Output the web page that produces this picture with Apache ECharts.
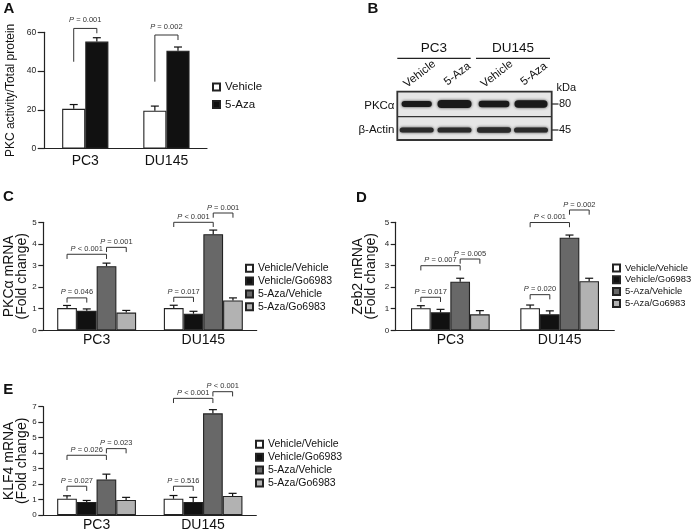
<!DOCTYPE html>
<html><head><meta charset="utf-8">
<script src="https://cdn.jsdelivr.net/npm/echarts@6/dist/echarts.min.js"></script>
<style>html,body{margin:0;padding:0;background:#fff}#c{width:691px;height:532px}</style>
</head><body><div id="c"></div>
<script>
// ---------- data ----------
const categories = ['PC3', 'DU145'];

// Panel A
const aNames = ['Vehicle', '5-Aza'];
const aVehicle = [20.5, 19.5];
const aAza = [55.2, 50.5];
const aVehicleErr = [2.2, 2.4];
const aAzaErr = [2.0, 1.9];
// [category, fromBar, toBar, lineY, leftFootY, rightFootY]
const aBrackets = [[0, 0, 1, 62.0, 44.8, 59.5], [1, 0, 1, 58.6, 34.5, 56.0]];
const aPLabels = ['= 0.001', '= 0.002'];

// Panels C, D, E (series x category)
const groupNames = ['Vehicle/Vehicle', 'Vehicle/Go6983', '5-Aza/Vehicle', '5-Aza/Go6983'];

const cValues = [[1.03, 1.03], [0.90, 0.77], [2.97, 4.45], [0.82, 1.38]];
const cErrors = [[0.12, 0.13], [0.09, 0.11], [0.14, 0.19], [0.10, 0.12]];
const cBrackets = [[0, 0, 1, 1.50], [0, 0, 2, 3.52], [0, 2, 3, 3.84], [1, 0, 1, 1.53], [1, 0, 2, 5.00], [1, 2, 3, 5.43]];
const cPLabels = ['= 0.046', '< 0.001', '= 0.001', '= 0.017', '< 0.001', '= 0.001'];

const dValues = [[1.02, 1.02], [0.83, 0.74], [2.25, 4.29], [0.74, 2.27]];
const dErrors = [[0.12, 0.15], [0.14, 0.16], [0.16, 0.12], [0.17, 0.14]];
const dBrackets = [[0, 0, 1, 1.53], [0, 0, 2, 2.99], [0, 2, 3, 3.30], [1, 0, 1, 1.65], [1, 0, 2, 4.99], [1, 2, 3, 5.57]];
const dPLabels = ['= 0.017', '= 0.007', '= 0.005', '= 0.020', '< 0.001', '= 0.002'];

const eValues = [[1.05, 1.05], [0.84, 0.84], [2.30, 6.57], [0.97, 1.23]];
const eErrors = [[0.19, 0.21], [0.10, 0.30], [0.34, 0.24], [0.17, 0.17]];
const eBrackets = [[0, 0, 1, 1.86], [0, 0, 2, 3.86], [0, 2, 3, 4.29], [1, 0, 1, 1.86], [1, 0, 2, 7.54], [1, 2, 3, 7.97]];
const ePLabels = ['= 0.027', '= 0.026', '= 0.023', '= 0.516', '< 0.001', '< 0.001'];

// Axis ticks
const aAxis = {max: 60, interval: 20};
const cAxis = {max: 5, interval: 1};
const dAxis = {max: 5, interval: 1};
const eAxis = {max: 7, interval: 1};

// Panel B (western blot)
const blotGroups = ['PC3', 'DU145'];
const blotLanes = ['Vehicle', '5-Aza', 'Vehicle', '5-Aza'];
const blotRows = ['PKC\u03b1', '\u03b2-Actin'];
const blotMarkers = ['80', '45'];
const pkcIntensity = [0.62, 1.0, 0.68, 0.9];
const actinIntensity = [0.85, 0.9, 0.92, 0.88];

// ---------- styles ----------
const FONT = '"Liberation Sans", Arial, sans-serif';
const AX = '#222';
const groupColors = ['#ffffff', '#111111', '#686868', '#b2b2b2'];
const aColors = ['#ffffff', '#111111'];

const panels = [
  {key: 'A', grid: {left: 44.7, top: 32.3, width: 162.3, height: 116.2}, gap: 0.43, axis: aAxis,
   name: 'PKC activity/Total protein', nameGap: 28, nameSize: 12, labelMargin: 6, tickFont: 8.5, tickLen: 7},
  {key: 'C', grid: {left: 43.3, top: 222.3, width: 213.4, height: 108}, gap: 0.26, axis: cAxis,
   name: 'PKC\u03b1 mRNA\n(Fold change)', nameGap: 15, nameSize: 14, labelMargin: 3, tickFont: 8, tickLen: 5},
  {key: 'D', grid: {left: 395.7, top: 222.3, width: 218.6, height: 108}, gap: 0.28, axis: dAxis,
   name: 'Zeb2 mRNA\n(Fold change)', nameGap: 18.5, nameSize: 14, labelMargin: 3, tickFont: 8, tickLen: 5},
  {key: 'E', grid: {left: 43.3, top: 406.7, width: 213, height: 108.3}, gap: 0.26, axis: eAxis,
   name: 'KLF4 mRNA\n(Fold change)', nameGap: 15, nameSize: 14, labelMargin: 3, tickFont: 8, tickLen: 5}
];

function errRender(gap, n) {
  return function (params, api) {
    const cat = api.value(0), bi = api.value(1), v = api.value(2), e = api.value(3);
    const band = api.size([1, 0])[0];
    const bw = band * (1 - gap) / n;
    const base = api.coord([cat, v]);
    const top = api.coord([cat, v + e]);
    const x = base[0] + (bi - (n - 1) / 2) * bw;
    const st = {stroke: '#111', lineWidth: 1.2};
    return {type: 'group', children: [
      {type: 'line', shape: {x1: x, y1: base[1], x2: x, y2: top[1]}, style: st},
      {type: 'line', shape: {x1: x - 4, y1: top[1], x2: x + 4, y2: top[1]}, style: st}
    ]};
  };
}

function bracketRender(gap, n, labels, legPx, labelGap) {
  return function (params, api) {
    const cat = api.value(0), f = api.value(1), t = api.value(2), y = api.value(3);
    const fl = api.value(4), fr = api.value(5);
    const band = api.size([1, 0])[0];
    const bw = band * (1 - gap) / n;
    const c = api.coord([cat, y]);
    const x1 = c[0] + (f - (n - 1) / 2) * bw;
    const x2 = c[0] + (t - (n - 1) / 2) * bw;
    const yl = (typeof fl === 'number' && !isNaN(fl)) ? api.coord([cat, fl])[1] : c[1] + legPx;
    const yr = (typeof fr === 'number' && !isNaN(fr)) ? api.coord([cat, fr])[1] : c[1] + legPx;
    return {type: 'group', children: [
      {type: 'polyline', shape: {points: [[x1, yl], [x1, c[1]], [x2, c[1]], [x2, yr]]},
       style: {stroke: '#333', lineWidth: 1, fill: null}},
      {type: 'text', x: (x1 + x2) / 2, y: c[1] - labelGap,
       style: {text: '{i|P} ' + labels[params.dataIndex], align: 'center', verticalAlign: 'bottom',
               fontSize: 7.5, fontFamily: FONT, fill: '#333',
               rich: {i: {fontStyle: 'italic', fontSize: 7.5, fontFamily: FONT, fill: '#333'}}}}
    ]};
  };
}

const grids = [], xAxes = [], yAxes = [], series = [];
panels.forEach(function (p, i) {
  grids.push(Object.assign({containLabel: false, outerBoundsMode: 'none'}, p.grid));
  xAxes.push({gridIndex: i, type: 'category', data: categories,
    axisLine: {lineStyle: {color: AX, width: 1.2}},
    axisTick: {length: 11, lineStyle: {color: AX, width: 1.2}},
    axisLabel: {fontSize: 14, color: '#111', margin: p.labelMargin, fontFamily: FONT, interval: 0}});
  yAxes.push({gridIndex: i, type: 'value', min: 0, max: p.axis.max, interval: p.axis.interval,
    axisLine: {show: true, lineStyle: {color: AX, width: 1.2}},
    axisTick: {show: true, length: p.tickLen, lineStyle: {color: AX, width: 1.2}},
    splitLine: {show: false},
    axisLabel: {fontSize: p.tickFont, color: '#222', margin: p.tickLen + 1.5, fontFamily: FONT},
    name: p.name, nameLocation: 'middle', nameGap: p.nameGap, nameMoveOverlap: false,
    nameTextStyle: {fontSize: p.nameSize, lineHeight: 13, color: '#111', fontFamily: FONT}});
});

function addBars(gi, names, valuesArr, colors, gap) {
  names.forEach(function (nm, s) {
    series.push({type: 'bar', name: nm, xAxisIndex: gi, yAxisIndex: gi, data: valuesArr[s],
      barGap: '0%', barCategoryGap: (gap * 100) + '%',
      itemStyle: {color: colors[s], borderColor: '#222', borderWidth: 1.1},
      emphasis: {disabled: true}, animation: false});
  });
}
function addErrors(gi, valuesArr, errArr, gap) {
  const n = valuesArr.length, d = [];
  for (let s = 0; s < n; s++) for (let c = 0; c < categories.length; c++) d.push([c, s, valuesArr[s][c], errArr[s][c]]);
  series.push({type: 'custom', xAxisIndex: gi, yAxisIndex: gi, data: d, encode: {x: 0, y: 2},
    renderItem: errRender(gap, n), clip: false, silent: true, animation: false, z: 3});
}
function addBrackets(gi, br, labels, gap, n, legPx, labelGap) {
  series.push({type: 'custom', xAxisIndex: gi, yAxisIndex: gi, data: br, encode: {x: 0, y: 3},
    renderItem: bracketRender(gap, n, labels, legPx, labelGap), clip: false, silent: true, animation: false, z: 4});
}

addBars(0, aNames, [aVehicle, aAza], aColors, panels[0].gap);
addErrors(0, [aVehicle, aAza], [aVehicleErr, aAzaErr], panels[0].gap);
addBrackets(0, aBrackets, aPLabels, panels[0].gap, 2, 5, 4.5);

[[cValues, cErrors, cBrackets, cPLabels], [dValues, dErrors, dBrackets, dPLabels], [eValues, eErrors, eBrackets, ePLabels]]
  .forEach(function (set, k) {
    const gi = k + 1, gap = panels[gi].gap;
    addBars(gi, groupNames, set[0], groupColors, gap);
    addErrors(gi, set[0], set[1], gap);
    addBrackets(gi, set[2], set[3], gap, 4, 4.7, 1.5);
  });

const legendBase = {orient: 'vertical', icon: 'rect', itemWidth: 7, itemHeight: 7, padding: 0,
  selectedMode: false, textStyle: {fontSize: 10.5, color: '#111', fontFamily: FONT}};
const legends = [
  Object.assign({}, legendBase, {data: aNames, left: 212, top: 81, itemGap: 5.6, textStyle: {fontSize: 11.5, color: '#111', fontFamily: FONT}}),
  Object.assign({}, legendBase, {data: groupNames, left: 245, top: 262.8, itemGap: 1.8}),
  Object.assign({}, legendBase, {data: groupNames, left: 612, top: 263.5, itemGap: 2.8, textStyle: {fontSize: 9.4, color: '#111', fontFamily: FONT}}),
  Object.assign({}, legendBase, {data: groupNames, left: 255, top: 438.8, itemGap: 1.9})
];

// ---------- graphic: panel letters + blot ----------
const graphics = [];
[['A', 9, 8.5], ['B', 373, 9], ['C', 8.5, 197], ['D', 361.5, 198], ['E', 8.2, 390]].forEach(function (l) {
  graphics.push({type: 'text', x: l[1], y: l[2], style: {text: l[0], align: 'center', verticalAlign: 'middle',
    font: 'bold 15px ' + FONT, fill: '#111'}});
});

const blot = {x: 397.3, y: 91.7, w: 154.4, h: 48.3, mid: 116.7};
const laneX = [416.7, 454.5, 494, 531];
const groupLines = [[397.3, 470.7], [476, 550]];
blotGroups.forEach(function (g, i) {
  const gl = groupLines[i];
  graphics.push({type: 'text', x: (gl[0] + gl[1]) / 2, y: 48.5, style: {text: g, align: 'center', verticalAlign: 'middle',
    fontSize: 13.5, fontFamily: FONT, fill: '#111'}});
  graphics.push({type: 'line', shape: {x1: gl[0], y1: 58.3, x2: gl[1], y2: 58.3}, style: {stroke: '#222', lineWidth: 1.2}});
});
blotLanes.forEach(function (ln, i) {
  graphics.push({type: 'text', x: laneX[i] + 3, y: 74, rotation: 38 * Math.PI / 180,
    style: {text: ln, align: 'center', verticalAlign: 'middle', fontSize: 11.5, fontFamily: FONT, fill: '#111'}});
});
graphics.push({type: 'rect', shape: {x: blot.x, y: blot.y, width: blot.w, height: blot.h},
  style: {fill: '#e6e6e6', stroke: '#333', lineWidth: 1.8}, z: 1});
graphics.push({type: 'line', shape: {x1: blot.x, y1: blot.mid, x2: blot.x + blot.w, y2: blot.mid},
  style: {stroke: '#333', lineWidth: 1.2}, z: 2});
function band(cx, cy, w, h, dark) {
  return {type: 'rect', shape: {x: cx - w / 2, y: cy - h / 2, width: w, height: h, r: h / 2},
    style: {fill: dark, shadowBlur: 3, shadowColor: 'rgba(20,20,20,0.8)'}, z: 3};
}
pkcIntensity.forEach(function (v, i) {
  graphics.push(band(laneX[i], 104, 24 + 10 * v, 3 + 5 * v, '#1a1a1a'));
});
actinIntensity.forEach(function (v, i) {
  graphics.push(band(laneX[i], 130, 34, 2.5 + 3 * v, '#2a2a2a'));
});
blotRows.forEach(function (r, i) {
  graphics.push({type: 'text', x: 394.5, y: i === 0 ? 105.5 : 129.5, style: {text: r, align: 'right', verticalAlign: 'middle',
    fontSize: 11.5, fontFamily: FONT, fill: '#111'}});
});
graphics.push({type: 'text', x: 556.5, y: 87.5, style: {text: 'kDa', align: 'left', verticalAlign: 'middle',
  fontSize: 11, fontFamily: FONT, fill: '#111'}});
blotMarkers.forEach(function (m, i) {
  const y = i === 0 ? 104 : 130;
  graphics.push({type: 'line', shape: {x1: 552, y1: y, x2: 558.5, y2: y}, style: {stroke: '#222', lineWidth: 1.2}});
  graphics.push({type: 'text', x: 559, y: y, style: {text: m, align: 'left', verticalAlign: 'middle',
    fontSize: 11, fontFamily: FONT, fill: '#111'}});
});

const chart = echarts.init(document.getElementById('c'), null, {renderer: 'canvas'});
chart.setOption({
  animation: false,
  backgroundColor: '#fff',
  textStyle: {fontFamily: FONT},
  grid: grids, xAxis: xAxes, yAxis: yAxes, legend: legends, series: series,
  graphic: {elements: graphics}
});
</script></body></html>
